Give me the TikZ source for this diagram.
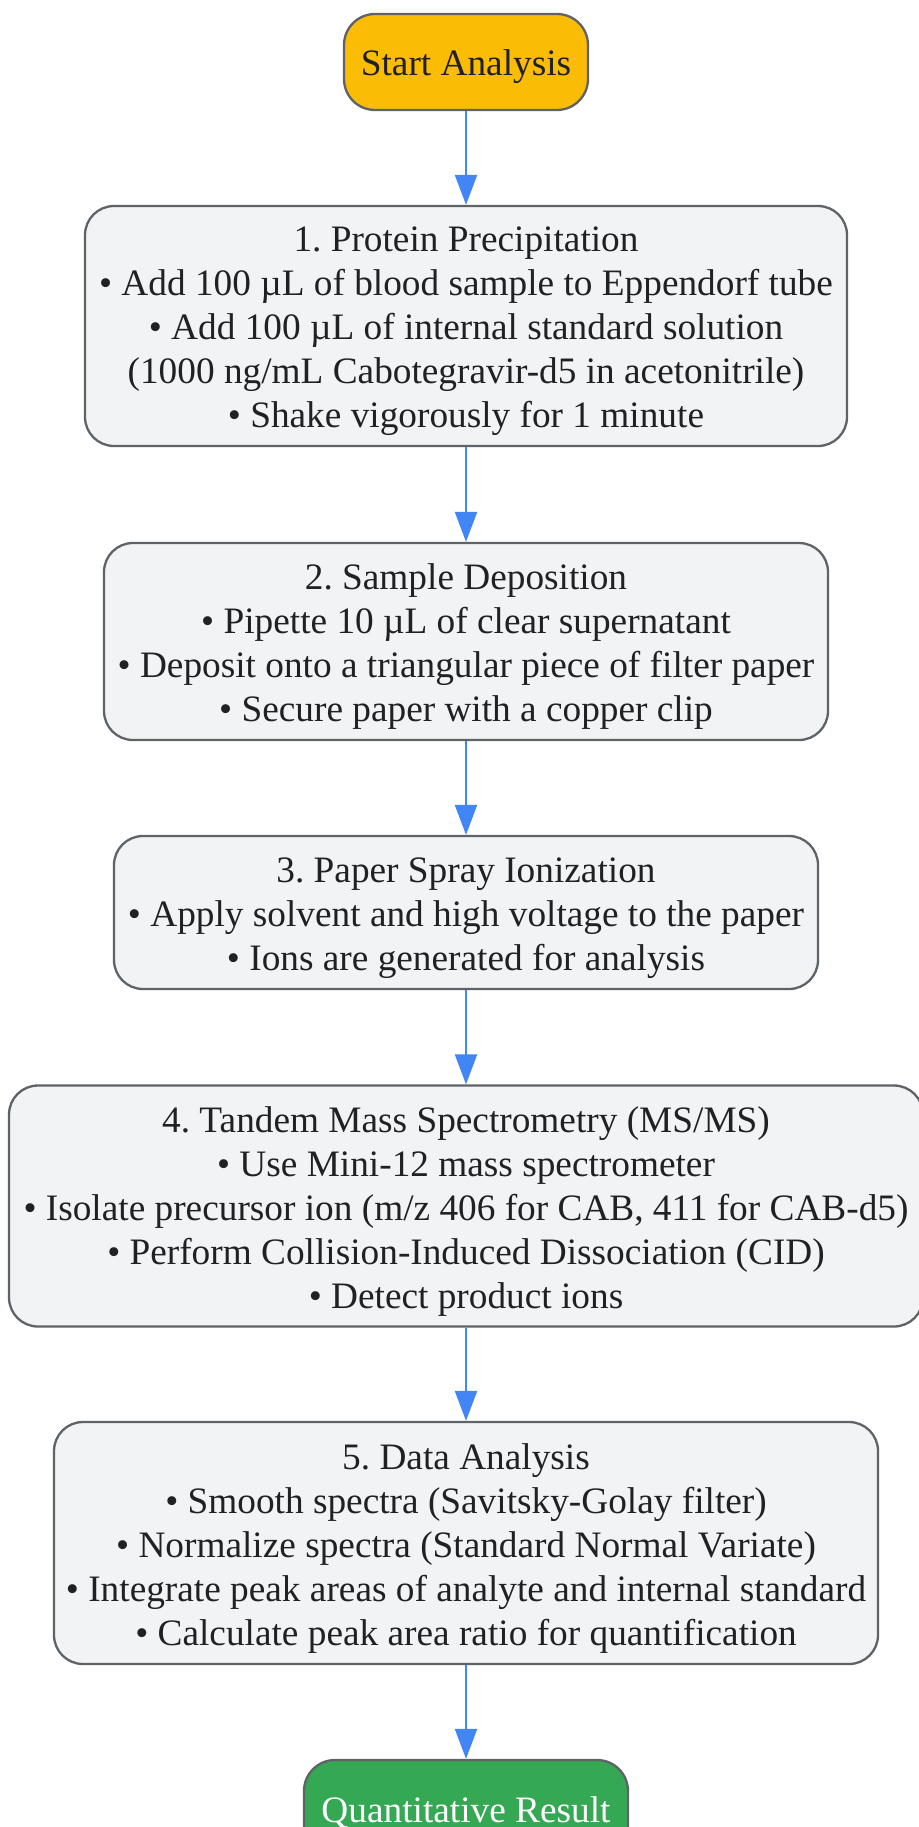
\documentclass[tikz,border=0pt]{standalone}
\usepackage{fontspec}
\setmainfont{Liberation Serif}
\usetikzlibrary{arrows.meta}
\definecolor{boxfill}{HTML}{F1F3F4}
\definecolor{boxline}{HTML}{5F6368}
\definecolor{startfill}{HTML}{FBBC05}
\definecolor{endfill}{HTML}{34A853}
\definecolor{arrowcol}{HTML}{4285F4}
\definecolor{txt}{HTML}{202124}
\tikzset{
  stepbox/.style={draw=boxline, line width=2.3pt, fill=boxfill, rounded corners=29pt, inner sep=0pt},
  termbox/.style={stepbox, rounded corners=31pt},
  boxtext/.style={align=center, inner sep=0pt, text=txt,
    font=\frenchspacing\fontsize{37.3pt}{44pt}\selectfont},
  flow/.style={draw=arrowcol, line width=2.2pt, -{Triangle[length=30pt,width=22pt]}}
}
\begin{document}
\begin{tikzpicture}
\useasboundingbox (0pt,0pt) rectangle (918pt,-1827pt);
\fill[white] (0pt,0pt) rectangle (918pt,-1827pt);
\node[termbox, fill=startfill, minimum width=244pt, minimum height=96pt] (start) at (466pt,-62pt) {};
\node[boxtext] (startt) at ([yshift=-5pt]start.center) {Start Analysis};
\node[stepbox, minimum width=762pt, minimum height=240pt] (s1) at (466pt,-326pt) {};
\node[boxtext] (s1t) at ([yshift=-5.5pt]s1.center)
  {1. Protein Precipitation\\
   • Add 100 µL of blood sample to Eppendorf tube\\
   • Add 100 µL of internal standard solution\\
   (1000 ng/mL Cabotegravir-d5 in acetonitrile)\\
   • Shake vigorously for 1 minute};
\node[stepbox, minimum width=724pt, minimum height=197pt] (s2) at (466pt,-641.5pt) {};
\node[boxtext] (s2t) at ([yshift=-5.5pt]s2.center)
  {2. Sample Deposition\\
   • Pipette 10 µL of clear supernatant\\
   • Deposit onto a triangular piece of filter paper\\
   • Secure paper with a copper clip};
\node[stepbox, minimum width=704pt, minimum height=153pt] (s3) at (466pt,-912.5pt) {};
\node[boxtext] (s3t) at ([yshift=-5.5pt]s3.center)
  {3. Paper Spray Ionization\\
   • Apply solvent and high voltage to the paper\\
   • Ions are generated for analysis};
\node[stepbox, minimum width=914pt, minimum height=241pt] (s4) at (466pt,-1206pt) {};
\node[boxtext] (s4t) at ([yshift=-5.5pt]s4.center)
  {4. Tandem Mass Spectrometry (MS/MS)\\
   • Use Mini-12 mass spectrometer\\
   • Isolate precursor ion (m/z 406 for CAB, 411 for CAB-d5)\\
   • Perform Collision-Induced Dissociation (CID)\\
   • Detect product ions};
\node[stepbox, minimum width=824pt, minimum height=242pt] (s5) at (466pt,-1543pt) {};
\node[boxtext] (s5t) at ([yshift=-5.5pt]s5.center)
  {5. Data Analysis\\
   • Smooth spectra (Savitsky-Golay filter)\\
   • Normalize spectra (Standard Normal Variate)\\
   • Integrate peak areas of analyte and internal standard\\
   • Calculate peak area ratio for quantification};
\node[termbox, fill=endfill, minimum width=324pt, minimum height=96pt] (end) at (466pt,-1808pt) {};
\node[boxtext, text=white] (endt) at ([yshift=-5pt]end.center) {Quantitative Result};
\draw[flow] (start) -- (s1);
\draw[flow] (s1) -- (s2);
\draw[flow] (s2) -- (s3);
\draw[flow] (s3) -- (s4);
\draw[flow] (s4) -- (s5);
\draw[flow] (s5) -- (end);
\end{tikzpicture}
\end{document}
